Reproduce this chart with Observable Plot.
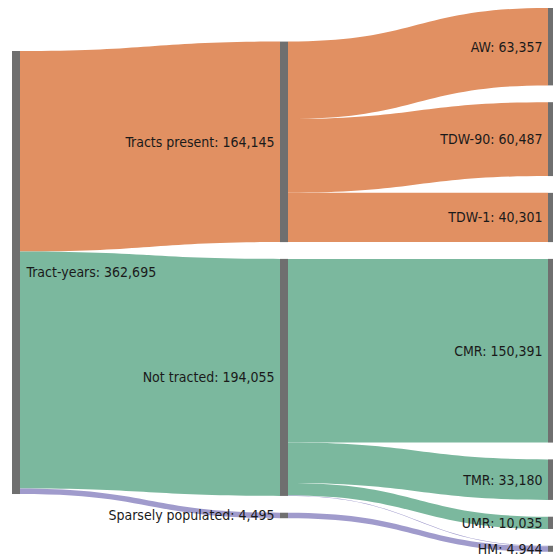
<!DOCTYPE html>
<html>
<head>
<meta charset="utf-8">
<script src="https://cdn.jsdelivr.net/npm/d3@7"></script>
<script src="https://cdn.jsdelivr.net/npm/@observablehq/plot@0.6"></script>
<style>
  html, body { margin: 0; padding: 0; background: #fff; }
  #chart svg { display: block; }
</style>
</head>
<body>
<div id="chart"></div>
<script>
// ---- data ----
const nodeNames = ["Tract-years", "Tracts present", "Not tracted", "Sparsely populated",
                   "AW", "TDW-90", "TDW-1", "CMR", "TMR", "UMR", "HM"];
const nodeGroups = ["all", "present", "not", "sparse",
                    "present", "present", "present", "not", "not", "not", "sparse"];
const linkSources = ["Tract-years", "Tract-years", "Tract-years",
                     "Tracts present", "Tracts present", "Tracts present",
                     "Not tracted", "Not tracted", "Not tracted", "Not tracted",
                     "Sparsely populated"];
const linkTargets = ["Tracts present", "Not tracted", "Sparsely populated",
                     "AW", "TDW-90", "TDW-1",
                     "CMR", "TMR", "UMR", "HM",
                     "HM"];
const linkValues = [164145, 194055, 4495,
                    63357, 60487, 40301,
                    150391, 33180, 10035, 449,
                    4495];
const groupNames = ["present", "not", "sparse"];
const groupColors = ["#e19062", "#7bb89e", "#a09bcc"];

// ---- sankey layout (in value units; node order kept as given) ----
function sankey(names, groups, srcs, tgts, vals, padding) {
  const nodes = names.map((name, i) => ({name, group: groups[i], index: i, sourceLinks: [], targetLinks: []}));
  const byName = new Map(nodes.map(n => [n.name, n]));
  const links = vals.map((v, i) => ({source: byName.get(srcs[i]), target: byName.get(tgts[i]), value: v, index: i}));
  for (const l of links) { l.source.sourceLinks.push(l); l.target.targetLinks.push(l); }
  for (const n of nodes) n.value = Math.max(d3.sum(n.sourceLinks, l => l.value), d3.sum(n.targetLinks, l => l.value));
  // columns
  let current = nodes.filter(n => !n.targetLinks.length), layer = 0;
  while (current.length) {
    const next = [];
    for (const n of current) { n.layer = layer; for (const {target} of n.sourceLinks) if (!next.includes(target)) next.push(target); }
    current = next; ++layer;
  }
  const nLayers = layer;
  for (const n of nodes) if (!n.sourceLinks.length) n.layer = nLayers - 1;
  const columns = d3.range(nLayers).map(() => []);
  for (const n of nodes) columns[n.layer].push(n);
  const packed = c => d3.sum(c, n => n.value) + (c.length - 1) * padding;
  const size = d3.max(columns, packed);
  // every column except the first: packed and centred in the extent
  for (const col of columns.slice(1)) {
    let y = (size - packed(col)) / 2;
    for (const n of col) { n.y0 = y; n.y1 = y + n.value; y = n.y1 + padding; }
  }
  // link offsets inside the nodes
  for (const n of nodes) {
    let s = 0, t = 0;
    for (const l of n.sourceLinks) { l.sy = s; s += l.value; }
    for (const l of n.targetLinks) { l.ty = t; t += l.value; }
  }
  // first column: placed so its links run as level as possible (value-weighted)
  for (const n of columns[0]) {
    const y = d3.sum(n.sourceLinks, l => (l.target.y0 + l.ty - l.sy) * l.value) / d3.sum(n.sourceLinks, l => l.value);
    n.y0 = y; n.y1 = y + n.value;
  }
  return {nodes, links, nLayers, yMax: size};
}

// padding between nodes, in value units
const nodePadding = 13750;
const nodeWidth = 8 / 268; // in column units
const {nodes, links, nLayers, yMax} = sankey(nodeNames, nodeGroups, linkSources, linkTargets, linkValues, nodePadding);
for (const n of nodes) { n.x0 = n.layer; n.x1 = n.layer + nodeWidth; }

// ribbon outlines for links
const linkPts = links.flatMap(l => [
  {id: l.index, group: l.target.group, x: l.source.x1, top: l.source.y0 + l.sy, bot: l.source.y0 + l.sy + l.value},
  {id: l.index, group: l.target.group, x: l.target.x0, top: l.target.y0 + l.ty, bot: l.target.y0 + l.ty + l.value}
]);

const fmt = d3.format(",");
const label = d => `${d.name}: ${fmt(d.value)}`;
const font = "'DejaVu Sans Condensed', 'Liberation Sans', sans-serif";

const chart = Plot.plot({
  width: 553,
  height: 554,
  margin: 0,
  x: {domain: [0, nLayers - 1 + nodeWidth], range: [12, 556], axis: null},
  y: {domain: [0, yMax], range: [8, 551.8], axis: null},
  color: {domain: groupNames, range: groupColors},
  marks: [
    Plot.area(linkPts, {x1: "x", y1: "top", y2: "bot", z: "id", fill: "group", curve: "bump-x"}),
    Plot.rect(nodes, {x1: "x0", x2: "x1", y1: "y0", y2: "y1", fill: "#6f6f6f"}),
    Plot.text(nodes.filter(d => d.layer === 0), {x: "x1", y: d => (d.y0 + d.y1) / 2, text: label,
      textAnchor: "start", dx: 6, fontSize: 14, fontFamily: font, fill: "#1a1a1a"}),
    Plot.text(nodes.filter(d => d.layer > 0), {x: "x0", y: d => (d.y0 + d.y1) / 2, text: label,
      textAnchor: "end", dx: -6, fontSize: 14, fontFamily: font, fill: "#1a1a1a"})
  ]
});
document.getElementById("chart").append(chart);
</script>
</body>
</html>
